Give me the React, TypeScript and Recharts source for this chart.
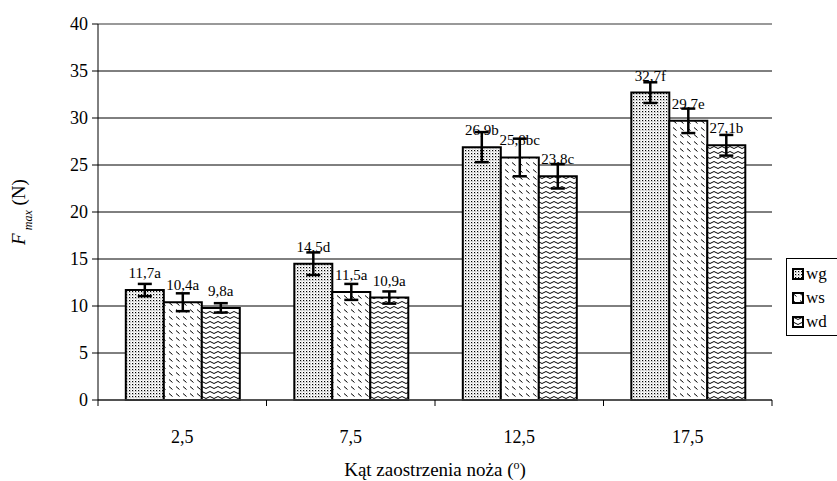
import React from "react";
import {
  Bar,
  BarChart,
  CartesianGrid,
  ErrorBar,
  LabelList,
  ReferenceLine,
  XAxis,
  YAxis,
} from "recharts";

const categories = ["2,5", "7,5", "12,5", "17,5"];
const wgValues = [11.7, 14.5, 26.9, 32.7];
const wsValues = [10.4, 11.5, 25.8, 29.7];
const wdValues = [9.8, 10.9, 23.8, 27.1];
const wgErrors = [0.65, 1.2, 1.6, 1.1];
const wsErrors = [0.95, 0.85, 2.0, 1.3];
const wdErrors = [0.5, 0.65, 1.3, 1.1];
const wgLabels = ["11,7a", "14,5d", "26,9b", "32,7f"];
const wsLabels = ["10,4a", "11,5a", "25,8bc", "29,7e"];
const wdLabels = ["9,8a", "10,9a", "23,8c", "27,1b"];
const yTicks = [0, 5, 10, 15, 20, 25, 30, 35, 40];

const data = categories.map((c, i) => ({
  cat: c,
  wg: wgValues[i],
  ws: wsValues[i],
  wd: wdValues[i],
  wgErr: wgErrors[i],
  wsErr: wsErrors[i],
  wdErr: wdErrors[i],
  wgLab: wgLabels[i],
  wsLab: wsLabels[i],
  wdLab: wdLabels[i],
}));

const W = 837;
const H = 481;
const FONT = "Liberation Serif";
const margin = { top: 24, right: 65, bottom: 11, left: 38 };
const HALF_BAND = (W - 98 - margin.right) / categories.length / 2;

function CatTick(props: any) {
  const { x, y, payload, index } = props;
  const i = payload && payload.index != null ? payload.index : index;
  return (
    <g>
      <line x1={x - HALF_BAND} x2={x - HALF_BAND} y1={y} y2={y + 6} stroke="#000" strokeWidth={1} />
      {i === categories.length - 1 && (
        <line x1={x + HALF_BAND} x2={x + HALF_BAND} y1={y} y2={y + 6} stroke="#000" strokeWidth={1} />
      )}
      <text x={x} y={y + 43} textAnchor="middle" fontSize={18} fontFamily={FONT} fill="#000">
        {payload.value}
      </text>
    </g>
  );
}

function XTitle(props: any) {
  const { viewBox } = props;
  return (
    <text x={viewBox.x + viewBox.width / 2} y={476} textAnchor="middle" fontSize={19} fontFamily={FONT} fill="#000">
      Kąt zaostrzenia noża (<tspan baselineShift="super" fontSize={12}>o</tspan>)
    </text>
  );
}

function YTitle(props: any) {
  const { viewBox } = props;
  const cx = 25;
  const cy = viewBox.y + viewBox.height / 2;
  return (
    <text x={cx} y={cy} transform={`rotate(-90 ${cx} ${cy})`} textAnchor="middle" fontSize={19} fontFamily={FONT} fill="#000">
      <tspan fontStyle="italic">F</tspan>
      <tspan fontStyle="italic" fontSize={12} baselineShift="sub"> max</tspan>
      <tspan>  (N)</tspan>
    </text>
  );
}

function Patterns() {
  return (
    <defs>
      <pattern id="patWg" width="3" height="3" patternUnits="userSpaceOnUse">
        <rect width="3" height="3" fill="#fff" />
        <rect x="0" y="0" width="1.2" height="1.2" fill="#000" />
        <rect x="1.5" y="1.5" width="0.8" height="0.8" fill="#555" />
      </pattern>
      <pattern id="patWs" width="7" height="7" patternUnits="userSpaceOnUse">
        <rect width="7" height="7" fill="#fff" />
        <path d="M1 1.5 L4.5 4.5" stroke="#000" strokeWidth="1" />
      </pattern>
      <pattern id="patWd" width="8" height="5" patternUnits="userSpaceOnUse">
        <rect width="8" height="5" fill="#fff" />
        <path d="M0 2.5 Q2 0.5 4 2.5 T8 2.5" stroke="#000" strokeWidth="1" fill="none" />
      </pattern>
    </defs>
  );
}

const legendItems = [
  { key: "wg", fill: "url(#patWg)" },
  { key: "ws", fill: "url(#patWs)" },
  { key: "wd", fill: "url(#patWd)" },
];

export default function App() {
  return (
    <div style={{ position: "absolute", left: 0, top: 0, width: W, height: H, background: "#fff", overflow: "hidden", fontFamily: FONT }}>
      <BarChart width={W} height={H} data={data} margin={margin} barCategoryGap="16.5%" barGap={0}>
        <Patterns />
        <CartesianGrid horizontal vertical={false} stroke="#000" strokeWidth={1} />
        <XAxis
          dataKey="cat"
          tickLine={false}
          tickSize={0}
          tickMargin={0}
          height={70}
          axisLine={{ stroke: "#444", strokeWidth: 1.5 }}
          tick={<CatTick />}
          interval={0}
          label={<XTitle />}
        />
        <YAxis
          domain={[0, 40]}
          ticks={yTicks}
          width={60}
          tickSize={6}
          tickMargin={4}
          axisLine={{ stroke: "#000" }}
          tickLine={{ stroke: "#000" }}
          tick={{ fill: "#000", fontSize: 18, fontFamily: FONT }}
          label={<YTitle />}
        />
        <YAxis
          yAxisId="r"
          orientation="right"
          domain={[0, 40]}
          width={0}
          tick={false}
          tickLine={false}
          axisLine={{ stroke: "#999", strokeWidth: 2 }}
        />
        <ReferenceLine y={40} stroke="#999" strokeWidth={2} />
        <Bar dataKey="wg" fill="url(#patWg)" stroke="#000" strokeWidth={2} isAnimationActive={false}>
          <ErrorBar dataKey="wgErr" width={7} stroke="#000" strokeWidth={2.5} direction="y" />
          <LabelList dataKey="wgLab" position="top" offset={12} fontSize={15} fontFamily={FONT} fill="#000" />
        </Bar>
        <Bar dataKey="ws" fill="url(#patWs)" stroke="#000" strokeWidth={2} isAnimationActive={false}>
          <ErrorBar dataKey="wsErr" width={7} stroke="#000" strokeWidth={2.5} direction="y" />
          <LabelList dataKey="wsLab" position="top" offset={12} fontSize={15} fontFamily={FONT} fill="#000" />
        </Bar>
        <Bar dataKey="wd" fill="url(#patWd)" stroke="#000" strokeWidth={2} isAnimationActive={false}>
          <ErrorBar dataKey="wdErr" width={7} stroke="#000" strokeWidth={2.5} direction="y" />
          <LabelList dataKey="wdLab" position="top" offset={12} fontSize={15} fontFamily={FONT} fill="#000" />
        </Bar>
      </BarChart>
      <div
        style={{
          position: "absolute",
          left: 786,
          top: 258,
          width: 60,
          height: 78,
          border: "1px solid #000",
          boxSizing: "border-box",
          fontFamily: FONT,
          fontSize: 17,
          paddingTop: 3,
        }}
      >
        {legendItems.map((it) => (
          <div key={it.key} style={{ display: "flex", alignItems: "center", height: 24, paddingLeft: 5 }}>
            <svg width={12} height={12} style={{ marginRight: 2 }}>
              <rect x={1} y={1} width={10} height={10} fill={it.fill} stroke="#000" strokeWidth={2} />
            </svg>
            <span>{it.key}</span>
          </div>
        ))}
      </div>
    </div>
  );
}
